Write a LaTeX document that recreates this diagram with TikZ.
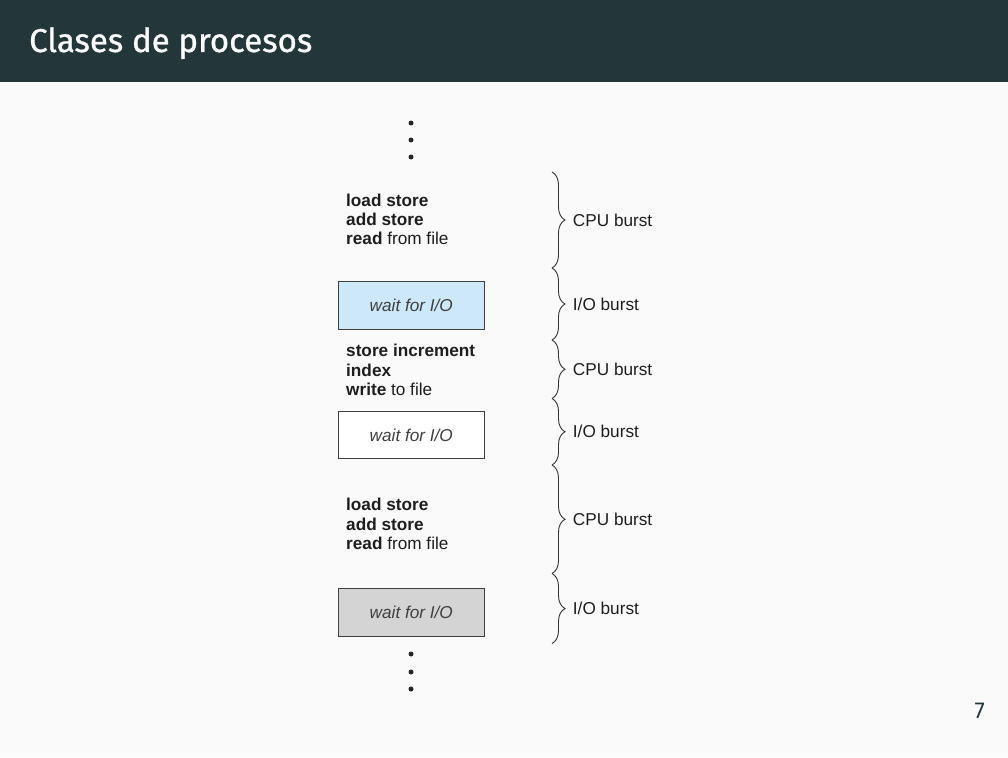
\documentclass[tikz,border=0pt]{standalone}
\usepackage{fontspec}
\setmainfont{Liberation Sans}
\newfontfamily\firafont[FakeBold=0.9]{Fira Sans}
\newfontfamily\numfont{Fira Sans}
\usetikzlibrary{decorations.pathreplacing}

\definecolor{barcol}{HTML}{23373B}
\definecolor{pagebg}{HTML}{FAFAFA}
\definecolor{iocol}{HTML}{CDE9F9}
\definecolor{waitgray}{HTML}{D4D4D4}
\definecolor{txtcol}{HTML}{1E1E1E}

\tikzset{
  instr/.style={anchor=base west, inner sep=0pt, text=txtcol, font=\fontsize{17.2}{20}\selectfont},
  waitbox/.style={draw=black!75, line width=0.9pt, minimum width=146pt, minimum height=47.5pt,
    inner sep=0pt, text=black!75, font=\fontsize{17.2}{20}\selectfont\itshape},
  burst/.style={decorate, decoration={brace, amplitude=13pt}, line width=0.9pt, draw=black!80},
  burstlabel/.style={midway, anchor=west, xshift=20.5pt, inner sep=0pt, text=txtcol,
    font=\fontsize{17.2}{20}\selectfont},
  dotmark/.style={circle, fill=black!85, inner sep=0pt, minimum size=5pt},
}

\begin{document}
\begin{tikzpicture}[x=1pt, y=-1pt]
  \useasboundingbox (0,0) rectangle (1008,757);
  \fill[pagebg] (0,0) rectangle (1008,757);
  \fill[barcol] (0,0) rectangle (1008,82);

  \node[anchor=base west, inner sep=0pt, text=white, font=\firafont\fontsize{33}{40}\selectfont]
    (title) at (29,52) {Clases de procesos};
  \node[anchor=base east, inner sep=0pt, text=barcol, font=\numfont\fontsize{23}{28}\selectfont]
    (pagenum) at (985,718) {7};

  % dots above and below
  \foreach \y in {123,140,157} \node[dotmark] (dtop\y) at (411,\y) {};
  \foreach \y in {654,672,689} \node[dotmark] (dbot\y) at (411,\y) {};

  % first cpu burst
  \node[instr] (cpuA1) at (346,206.5) {\textbf{load store}};
  \node[instr] (cpuA2) at (346,225.7) {\textbf{add store}};
  \node[instr] (cpuA3) at (346,244.5) {\textbf{read} from file};
  \node[waitbox, fill=iocol] (waitA) at (411.3,305.3) {wait for I/O};

  % second cpu burst
  \node[instr] (cpuB1) at (346,356.7) {\textbf{store increment}};
  \node[instr] (cpuB2) at (346,376) {\textbf{index}};
  \node[instr] (cpuB3) at (346,395.5) {\textbf{write} to file};
  \node[waitbox, fill=white] (waitB) at (411.3,435) {wait for I/O};

  % third cpu burst
  \node[instr] (cpuC1) at (346,510.7) {\textbf{load store}};
  \node[instr] (cpuC2) at (346,530) {\textbf{add store}};
  \node[instr] (cpuC3) at (346,549) {\textbf{read} from file};
  \node[waitbox, fill=waitgray] (waitC) at (411.3,612.2) {wait for I/O};

  % braces
  \coordinate (b0) at (552,172);
  \coordinate (b1) at (552,268);
  \coordinate (b2) at (552,340);
  \coordinate (b3) at (552,398.5);
  \coordinate (b4) at (552,465);
  \coordinate (b5) at (552,573.5);
  \coordinate (b6) at (552,643.5);

  \draw[burst] (b0) -- node[burstlabel] (burstA) {CPU burst} (b1);
  \draw[burst] (b1) -- node[burstlabel] (ioA) {I/O burst} (b2);
  \draw[burst] (b2) -- node[burstlabel] (burstB) {CPU burst} (b3);
  \draw[burst] (b3) -- node[burstlabel] (ioB) {I/O burst} (b4);
  \draw[burst] (b4) -- node[burstlabel] (burstC) {CPU burst} (b5);
  \draw[burst] (b5) -- node[burstlabel] (ioC) {I/O burst} (b6);
\end{tikzpicture}
\end{document}
